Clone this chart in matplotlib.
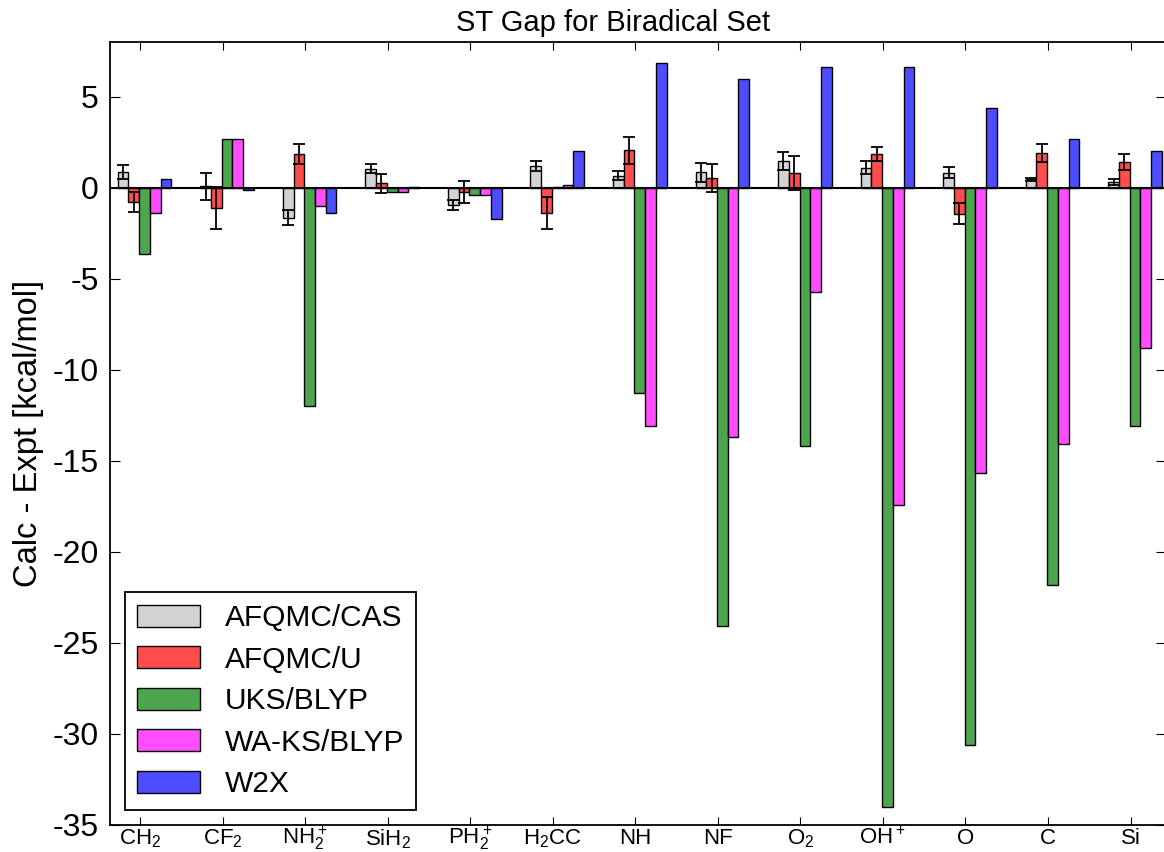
import numpy as np
import matplotlib
matplotlib.use("Agg")
import matplotlib.pyplot as plt
import matplotlib.transforms as mtransforms

plt.rcParams['font.family'] = ['Liberation Sans', 'DejaVu Sans']
plt.rcParams['mathtext.default'] = 'regular'
plt.rcParams['axes.unicode_minus'] = False

molecules = ["CH$_2$", "CF$_2$", "NH$_2^+$", "SiH$_2$", "PH$_2^+$", "H$_2$CC",
             "NH", "NF", "O$_2$", "OH$^+$", "O", "C", "Si"]

series_names = ["AFQMC/CAS", "AFQMC/U", "UKS/BLYP", "WA-KS/BLYP", "W2X"]

afqmc_cas = [0.85, 0.08, -1.65, 1.05, -0.95, 1.2, 0.65, 0.85, 1.47, 1.1, 0.83, 0.45, 0.3]
afqmc_cas_err = [0.4, 0.75, 0.42, 0.25, 0.27, 0.27, 0.25, 0.53, 0.5, 0.37, 0.32, 0.1, 0.15]
afqmc_u = [-0.77, -1.1, 1.84, 0.23, -0.22, -1.38, 2.05, 0.52, 0.8, 1.84, -1.42, 1.9, 1.4]
afqmc_u_err = [0.55, 1.15, 0.55, 0.52, 0.6, 0.88, 0.75, 0.77, 0.93, 0.4, 0.57, 0.5, 0.45]
uks_blyp = [-3.65, 2.7, -12.0, -0.25, -0.42, 0.05, -11.28, -24.05, -14.2, -34.0, -30.6, -21.8, -13.1]
waks_blyp = [-1.4, 2.7, -1.0, -0.25, -0.42, 0.15, -13.1, -13.7, -5.75, -17.45, -15.65, -14.1, -8.8]
w2x = [0.48, -0.15, -1.37, 0.02, -1.7, 2.0, 6.85, 5.97, 6.6, 6.6, 4.4, 2.65, 2.0]

colors = ['#d3d3d3', '#ff4d4d', '#4da64d', '#ff4dff', '#4d4dff']

fig = plt.figure(figsize=(11.64, 8.52), dpi=100)
ax = fig.add_axes([110 / 1164, 27 / 852, 1056 / 1164, 783 / 852])

ind = np.arange(len(molecules))
width = 0.13
start = -0.27

values = [afqmc_cas, afqmc_u, uks_blyp, waks_blyp, w2x]
errors = [afqmc_cas_err, afqmc_u_err, None, None, None]

for i, (vals, errs) in enumerate(zip(values, errors)):
    ax.bar(ind + start + i * width, vals, width, align='edge', color=colors[i],
           edgecolor='black', linewidth=1.0, label=series_names[i], zorder=2)
    if errs is not None:
        ax.errorbar(ind + start + (i + 0.5) * width, vals, yerr=errs, fmt='none',
                    ecolor='black', elinewidth=1.3, capsize=4, capthick=1.3, zorder=3)

ax.axhline(0, color='black', linewidth=1.5, zorder=4)

ax.set_xlim(-0.364, 12.43)
ax.set_ylim(-35, 8)
ax.set_yticks(np.arange(-35, 6, 5))
ax.set_xticks(ind)
ax.set_xticklabels(molecules, fontsize=16)
ax.tick_params(axis='y', labelsize=23, direction='in', length=7, right=True, pad=8)
ax.tick_params(axis='x', direction='in', length=6, top=True, pad=2)
for s in ax.spines.values():
    s.set_linewidth(1.3)

# labels with both sub- and superscript hang lower; lift them a bit so they fit
lift = mtransforms.ScaledTranslation(0, 3 / 100, fig.dpi_scale_trans)
for lab in ax.get_xticklabels():
    txt = lab.get_text()
    if '^' in txt and '_' in txt:
        lab.set_transform(lab.get_transform() + lift)

ax.set_ylabel("Calc - Expt [kcal/mol]", fontsize=23.5, labelpad=6)
ax.set_title("ST Gap for Biradical Set", fontsize=21, x=0.476, pad=8)

leg = ax.legend(loc='lower left', fontsize=21.5, fancybox=False, framealpha=1,
                edgecolor='black', handlelength=2.1, handleheight=0.75,
                labelspacing=0.45, handletextpad=0.85, borderpad=0.4,
                borderaxespad=0.5)
leg.get_frame().set_linewidth(1.3)

fig.savefig("out.png", dpi=100)
